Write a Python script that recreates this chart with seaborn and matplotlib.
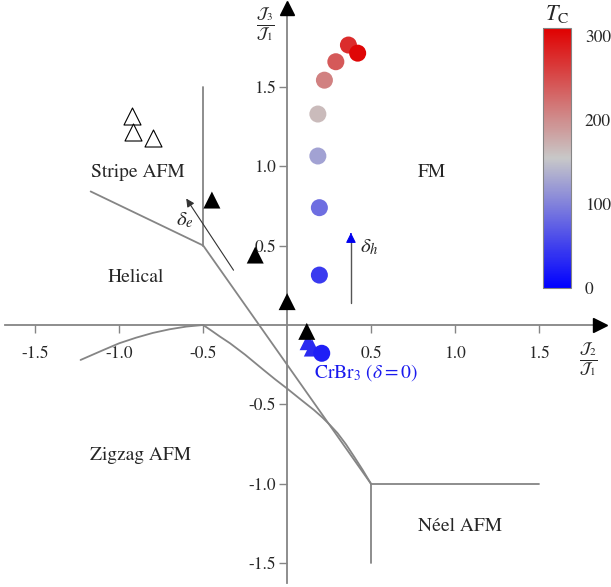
import numpy as np
import pandas as pd
import matplotlib
matplotlib.use("Agg")
import matplotlib.pyplot as plt
from matplotlib.colors import LinearSegmentedColormap, Normalize
import matplotlib.cm as cm
import seaborn as sns

# ---------------- data ----------------
circ_x = [0.192, 0.192, 0.183, 0.183, 0.222, 0.29, 0.365, 0.42, 0.206]
circ_y = [0.314, 0.738, 1.063, 1.327, 1.54, 1.656, 1.761, 1.71, -0.178]
circ_tc = [45, 85, 125, 165, 210, 240, 275, 305, 25]

tri_black_x = [-0.448, -0.19, 0.0, 0.117]
tri_black_y = [0.786, 0.44, 0.147, -0.04]
tri_open_x = [-0.924, -0.915, -0.80]
tri_open_y = [1.314, 1.216, 1.178]
tri_blue_x = [0.125, 0.15]
tri_blue_y = [-0.105, -0.145]

# phase boundaries
b1_x = [-0.5, -0.5]; b1_y = [0.5, 1.5]
b2_x = [-1.17, -0.5]; b2_y = [0.84, 0.5]
b3_x = [-0.5, 0.5]; b3_y = [0.5, -1.0]
b4_x = [-1.23, -1.1, -1.0, -0.9, -0.8, -0.7, -0.6, -0.5,
        -0.45, -0.4, -0.34, -0.25, -0.14, -0.07, 0.0, 0.08, 0.16, 0.21, 0.256,
        0.3, 0.35, 0.4, 0.45, 0.5]
b4_y = [-0.22, -0.16, -0.115, -0.08, -0.05, -0.027, -0.01, 0.0,
        -0.036, -0.073, -0.115, -0.187, -0.283, -0.343, -0.40, -0.468, -0.535, -0.582, -0.630,
        -0.68, -0.75, -0.83, -0.912, -1.0]
b5_x = [0.5, 1.5]; b5_y = [-1.0, -1.0]
b6_x = [0.5, 0.5]; b6_y = [-1.0, -1.5]

xticks = [-1.5, -1.0, -0.5, 0.5, 1.0, 1.5]
yticks = [-1.5, -1.0, -0.5, 0.5, 1.0, 1.5]
cbar_ticks = [0, 100, 200, 300]

# ---------------- style ----------------
sns.set_theme(style="white")
plt.rcParams["font.family"] = ["STIXGeneral", "DejaVu Serif"]
plt.rcParams["mathtext.fontset"] = "stix"

gray = "#858585"
cmap = LinearSegmentedColormap.from_list("bgr", ["#0000ff", "#c8c8c8", "#e00000"])
norm = Normalize(vmin=0, vmax=310)

fig = plt.figure(figsize=(6.11, 5.87), dpi=100)
ax = fig.add_axes([5 / 611, 4 / 587, 595 / 611, 575 / 587])
ax.set_xlim(-1.68, 1.863)
ax.set_ylim(-1.623, 1.994)

# spines through origin
for s in ["top", "right"]:
    ax.spines[s].set_visible(False)
ax.spines["left"].set_position(("data", 0))
ax.spines["bottom"].set_position(("data", 0))
for s in ["left", "bottom"]:
    ax.spines[s].set_color(gray)
    ax.spines[s].set_linewidth(1.3)
    ax.spines[s].set_zorder(1)

ax.set_xticks(xticks)
ax.set_xticklabels([f"{v:.1f}" for v in xticks])
ax.set_yticks(yticks)
ax.set_yticklabels([f"{v:.1f}" for v in yticks])
ax.tick_params(axis="x", direction="out", length=6, width=1, color=gray,
               pad=9, labelsize=12.5, bottom=True)
ax.tick_params(axis="y", direction="out", length=6, width=1, color=gray,
               pad=2, labelsize=12.5, left=True)
ax.grid(False)

# arrow heads on axes
ax.plot(1, 0, marker=">", color="black", markersize=10, transform=ax.get_yaxis_transform(),
        clip_on=False, zorder=5)
ax.plot(0, 1, marker="^", color="black", markersize=10, transform=ax.get_xaxis_transform(),
        clip_on=False, zorder=5)

# boundaries
for bx, by in [(b1_x, b1_y), (b2_x, b2_y), (b3_x, b3_y), (b4_x, b4_y), (b5_x, b5_y), (b6_x, b6_y)]:
    ax.plot(bx, by, color=gray, lw=1.3, zorder=2, solid_joinstyle="round")

# triangles
sns.scatterplot(x=tri_blue_x, y=tri_blue_y, marker="^", s=150, color="#2a2af0",
                edgecolor="none", ax=ax, zorder=3, legend=False)
sns.scatterplot(x=tri_black_x, y=tri_black_y, marker="^", s=150, color="black",
                edgecolor="none", ax=ax, zorder=4, legend=False)
sns.scatterplot(x=tri_open_x, y=tri_open_y, marker="^", s=150, facecolor="white",
                edgecolor="black", linewidth=0.8, ax=ax, zorder=4, legend=False)

# circles
df = pd.DataFrame({"J2": circ_x, "J3": circ_y, "Tc": circ_tc})
sns.scatterplot(data=df, x="J2", y="J3", hue="Tc", palette=cmap, hue_norm=norm,
                s=150, edgecolor="none", ax=ax, zorder=4, legend=False)
ax.set_xlabel("")
ax.set_ylabel("")

# arrows delta_e and delta_h
ax.annotate("", xy=(-0.61, 0.81), xytext=(-0.31, 0.33),
            arrowprops=dict(arrowstyle="-|>", color="#333333", lw=0.8, mutation_scale=12))
ax.plot([0.38, 0.38], [0.14, 0.55], color="#555555", lw=1.0)
ax.annotate("", xy=(0.38, 0.58), xytext=(0.38, 0.555),
            arrowprops=dict(arrowstyle="-|>", color="#0000ee", lw=0.8, mutation_scale=15))
ax.text(-0.61, 0.66, r"$\delta_e$", fontsize=15, ha="center", va="center")
ax.text(0.49, 0.49, r"$\delta_h$", fontsize=15, ha="center", va="center")

# region labels
ax.text(-0.89, 0.96, "Stripe AFM", fontsize=14, ha="center", va="center")
ax.text(0.86, 0.96, "FM", fontsize=14, ha="center", va="center")
ax.text(-0.9, 0.30, "Helical", fontsize=14, ha="center", va="center")
ax.text(-0.875, -0.82, "Zigzag AFM", fontsize=14, ha="center", va="center")
ax.text(1.03, -1.27, "Néel AFM", fontsize=14, ha="center", va="center")
ax.text(0.47, -0.30, r"CrBr$_3$ ($\delta = 0$)", fontsize=14, ha="center", va="center",
        color="#1a1aee")

# axis labels
ax.text(1.79, -0.22, r"$\frac{\mathcal{J}_2}{\mathcal{J}_1}$", fontsize=16,
        ha="center", va="center")
ax.text(-0.13, 1.89, r"$\frac{\mathcal{J}_3}{\mathcal{J}_1}$", fontsize=16,
        ha="center", va="center")

# colorbar
cax = fig.add_axes([543 / 611, (587 - 288) / 587, 28 / 611, 260 / 587])
sm = cm.ScalarMappable(norm=norm, cmap=cmap)
cb = fig.colorbar(sm, cax=cax, ticks=cbar_ticks)
cb.outline.set_edgecolor(gray)
cb.outline.set_linewidth(0.8)
cax.tick_params(direction="in", left=True, right=True, length=6, width=1.2,
                color="#444444", labelsize=12.5, pad=10)
cax.set_title(r"$T_\mathrm{C}$", fontsize=16, pad=6)

fig.savefig("out.png", dpi=100)
